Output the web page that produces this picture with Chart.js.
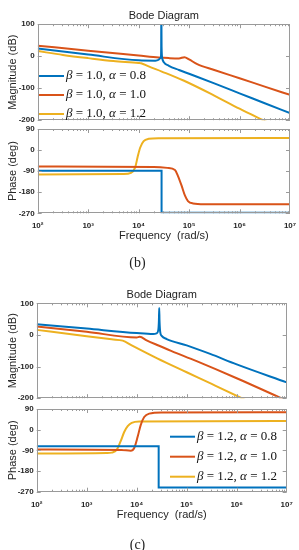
<!DOCTYPE html>
<html>
<head>
<meta charset="utf-8">
<script src="https://cdn.jsdelivr.net/npm/chart.js@4.4.1/dist/chart.umd.min.js"></script>
<style>
  html, body { margin: 0; padding: 0; background: #fff; }
  body { width: 299px; height: 550px; position: relative; overflow: hidden; }
  .box { position: absolute; left: 0; width: 299px; }
  .cap { position: absolute; left: -12px; width: 299px; text-align: center; font: 14px 'Liberation Serif', 'Times New Roman', serif; color: #222; }
</style>
</head>
<body>
<div class="box" style="top:0;height:128px"><canvas id="magB"></canvas></div>
<div class="box" style="top:120px;height:124px"><canvas id="phaseB"></canvas></div>
<div class="cap" style="top:255px">(b)</div>
<div class="box" style="top:278px;height:128px"><canvas id="magC"></canvas></div>
<div class="box" style="top:400px;height:123px"><canvas id="phaseC"></canvas></div>
<div class="cap" style="top:537px">(c)</div>
<script>
const colors = ['#0072BD', '#D95319', '#EDB120'];
const freqTicks = [1e2, 1e3, 1e4, 1e5, 1e6, 1e7];
const freqTickLabels = ['10²', '10³', '10⁴', '10⁵', '10⁶', '10⁷'];
const magTicks = [-200, -100, 0, 100];
const phaseTicks = [-270, -180, -90, 0, 90];
const labelsB = ['β = 1.0, α = 0.8', 'β = 1.0, α = 1.0', 'β = 1.0, α = 1.2'];
const labelsC = ['β = 1.2, α = 0.8', 'β = 1.2, α = 1.0', 'β = 1.2, α = 1.2'];

// (b) magnitude, [rad/s, dB]
const magB08 = [[100, 24], [1000, 5], [1e4, -13], [2.14e4, -14], [2.5e4, -11], [2.69e4, -6], [2.77e4, -2], [2.8e4, 30], [2.82e4, 150], [2.85e4, 30], [2.95e4, -8], [3.16e4, -19], [3.98e4, -30], [6.3e4, -43], [1e5, -55], [3.16e5, -85], [1e6, -116], [3.16e6, -147], [1e7, -178]];
const magB10 = [[100, 33], [1000, 17], [1e4, 2], [2.5e4, -4], [4e4, -6], [6.3e4, -7], [8.1e4, -3], [1e5, -10], [1.45e5, -25], [3.16e5, -43], [1e6, -69], [3.16e6, -95], [1e7, -121]];
const magB12 = [[100, 16], [316, 4], [1000, -6], [3162, -15], [1e4, -21], [1.12e4, -22], [1.58e4, -32], [2.88e4, -48], [7.76e4, -76], [3.16e5, -123], [1e6, -164], [2.95e6, -200], [4e6, -210]];

// (b) phase, [rad/s, deg]
const phB08 = [[100, -88], [2.85e4, -88], [2.85e4, -268], [1e7, -268]];
const phB10 = [[100, -70], [2e4, -72], [3.7e4, -76], [5.25e4, -85], [6e4, -110], [7.08e4, -151], [8.3e4, -195], [9.5e4, -218], [1.2e5, -228], [2e5, -231], [1e7, -231]];
const phB12 = [[100, -104], [5012, -102], [7079, -97], [8511, -75], [9550, -30], [10715, 10], [12589, 38], [15849, 48], [25119, 51], [1e7, 52]];

// (c) magnitude
const magC08 = [[100, 34], [1000, 20], [1e4, 6], [2.14e4, 3], [2.5e4, 5], [2.7e4, 15], [2.78e4, 45], [2.82e4, 85], [2.86e4, 45], [2.95e4, 10], [3.16e4, -3], [3.98e4, -13], [1e5, -33], [2.95e5, -60], [1e6, -93], [1e7, -150]];
const magC10 = [[100, 27], [1000, 10], [1e4, -8], [1.15e4, -6], [1.58e4, -17], [2.5e4, -31], [5e4, -51], [1.58e5, -83], [1e6, -137], [7.76e6, -200], [1e7, -208]];
const magC12 = [[100, 16], [1000, -4], [3162, -14], [5248, -18], [7943, -33], [2.57e4, -74], [1e5, -118], [3.16e5, -155], [1.26e6, -200], [1.6e6, -208]];

// (c) phase
const phC08 = [[100, -72], [2.75e4, -72], [2.75e4, -252], [1e7, -252]];
const phC10 = [[100, -86], [5012, -88], [7586, -92], [8913, -80], [10471, -30], [12023, 20], [14125, 55], [17783, 70], [31623, 75], [1e7, 76]];
const phC12 = [[100, -104], [2512, -102], [3162, -100], [3981, -88], [4786, -50], [5623, -10], [6607, 15], [7943, 30], [11220, 36], [1e7, 38]];

Chart.defaults.font.family = 'Arial, "Liberation Sans", sans-serif';
Chart.defaults.color = '#262626';

// MATLAB-style box with inward ticks
const axesBox = {
    id: 'axesBox',
    afterDatasetsDraw(chart) {
        const { ctx, chartArea: a, scales: { x, y } } = chart;
        ctx.save();
        ctx.strokeStyle = '#9a9a9a';
        ctx.lineWidth = 1;
        ctx.beginPath();
        freqTicks.slice(0, -1).forEach(d => {
            for (let m = 1; m < 10; m++) {
                const px = Math.round(x.getPixelForValue(m * d)) + 0.5;
                const len = m === 1 ? 4 : 2;
                ctx.moveTo(px, a.top); ctx.lineTo(px, a.top + len);
                ctx.moveTo(px, a.bottom); ctx.lineTo(px, a.bottom - len);
            }
        });
        y.ticks.forEach(t => {
            const py = Math.round(y.getPixelForValue(t.value)) + 0.5;
            ctx.moveTo(a.left, py); ctx.lineTo(a.left + 4, py);
            ctx.moveTo(a.right, py); ctx.lineTo(a.right - 4, py);
        });
        ctx.stroke();
        ctx.strokeRect(Math.round(a.left) + 0.5, Math.round(a.top) + 0.5, Math.round(a.width) - 1, Math.round(a.height) - 1);
        ctx.restore();
    }
};

// legend drawn inside the plot, greek letters in italic
const bodeLegend = {
    id: 'bodeLegend',
    afterDraw(chart, args, opts) {
        if (opts.x == null) return;
        const ctx = chart.ctx;
        chart.data.datasets.forEach((ds, i) => {
            const y = opts.y + i * opts.gap;
            ctx.save();
            ctx.strokeStyle = ds.borderColor;
            ctx.lineWidth = 2;
            ctx.beginPath();
            ctx.moveTo(opts.x, y);
            ctx.lineTo(opts.x + opts.len, y);
            ctx.stroke();
            let tx = opts.x + opts.len + 2;
            ctx.fillStyle = '#111';
            ctx.textBaseline = 'middle';
            ds.label.split(/([αβ])/).forEach(part => {
                if (!part) return;
                const greek = part === 'α' || part === 'β';
                ctx.font = (greek ? 'italic ' : '') + opts.size + 'px "Liberation Serif", "Times New Roman", serif';
                ctx.fillText(part, tx, y);
                tx += ctx.measureText(part).width;
            });
            ctx.restore();
        });
    }
};

Chart.register(axesBox, bodeLegend);

const tickFont = { size: 8, weight: 'bold' };
const labelFont = { size: 11, weight: 'normal' };

function bodeChart(id, series, labels, o) {
    return new Chart(document.getElementById(id), {
        type: 'line',
        data: {
            datasets: series.map((s, i) => ({
                label: labels[i],
                data: s.map(([x, y]) => ({ x, y })),
                borderColor: colors[i],
                borderWidth: 2,
                pointRadius: 0,
                tension: 0,
                cubicInterpolationMode: i === 0 && o.step ? 'default' : 'monotone'
            }))
        },
        options: {
            responsive: true,
            maintainAspectRatio: false,
            animation: false,
            devicePixelRatio: 1,
            layout: { padding: o.padding },
            plugins: {
                legend: { display: false },
                tooltip: { enabled: false },
                title: {
                    display: !!o.title,
                    text: 'Bode Diagram',
                    fullSize: false,
                    font: labelFont,
                    color: '#222',
                    padding: { top: 8, bottom: 2 }
                },
                bodeLegend: o.legend || false
            },
            scales: {
                x: {
                    type: 'logarithmic',
                    min: 100,
                    max: 1e7,
                    display: !!o.xAxis,
                    afterBuildTicks: s => { s.ticks = freqTicks.map(v => ({ value: v })); },
                    afterFit: s => {
                        if (o.xAxis) s.height = o.xAxis;
                        // end labels may hang over the plot edges
                        s.paddingLeft = 0;
                        s.paddingRight = 0;
                    },
                    grid: { display: false, drawTicks: false },
                    border: { display: false },
                    ticks: {
                        autoSkip: false,
                        maxRotation: 0,
                        padding: 8,
                        font: tickFont,
                        callback: v => freqTickLabels[freqTicks.indexOf(v)]
                    },
                    title: { display: true, text: 'Frequency  (rad/s)', font: labelFont, padding: { top: 0, bottom: 1.4 } }
                },
                y: {
                    min: o.yTicks[0],
                    max: o.yTicks[o.yTicks.length - 1],
                    afterBuildTicks: s => { s.ticks = o.yTicks.map(v => ({ value: v })); },
                    afterFit: s => { s.width = o.yWidth; },
                    grid: { display: false, drawTicks: false },
                    border: { display: false },
                    ticks: { padding: 3, font: tickFont },
                    title: { display: true, text: o.yTitle, font: labelFont, padding: { top: 6, bottom: 0 } }
                }
            }
        }
    });
}

bodeChart('magB', [magB08, magB10, magB12], labelsB, {
    title: true, yTicks: magTicks, yTitle: 'Magnitude (dB)', yWidth: 37.7,
    padding: { top: 1, bottom: 6.3, left: 0, right: 9 },
    legend: { x: 39, y: 76, gap: 19, len: 25, size: 13 }
});
bodeChart('phaseB', [phB08, phB10, phB12], labelsB, {
    step: true, yTicks: phaseTicks, yTitle: 'Phase (deg)', yWidth: 37.7, xAxis: 30.7,
    padding: { top: 9, bottom: 0, left: 0, right: 9 }
});
bodeChart('magC', [magC08, magC10, magC12], labelsC, {
    title: true, yTicks: magTicks, yTitle: 'Magnitude (dB)', yWidth: 36.7,
    padding: { top: 2.1, bottom: 6.7, left: 0, right: 12.3 }
});
bodeChart('phaseC', [phC08, phC10, phC12], labelsC, {
    step: true, yTicks: phaseTicks, yTitle: 'Phase (deg)', yWidth: 36.7, xAxis: 31.3,
    padding: { top: 9, bottom: 0, left: 0, right: 12.3 },
    legend: { x: 170, y: 36.7, gap: 20, len: 25, size: 13 }
});
</script>
</body>
</html>
